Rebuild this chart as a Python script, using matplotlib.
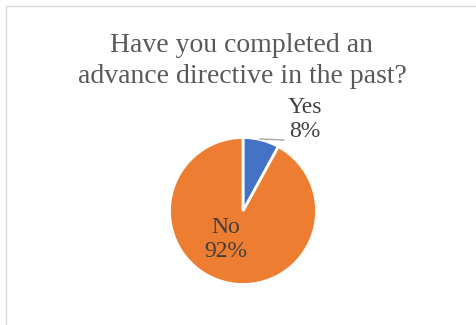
import matplotlib.pyplot as plt
from matplotlib.patches import Rectangle

categories = ["Yes", "No"]
shares = [8, 92]
colors = ["#4472C4", "#ED7D31"]
title_lines = ["Have you completed an", "advance directive in the past?"]

W, H = 476, 325
fig = plt.figure(figsize=(W / 100, H / 100), dpi=100)
plt.rcParams["font.family"] = ["Liberation Serif", "DejaVu Serif"]


def fx(px):
    return px / W


def fy(py):
    return 1 - py / H


# chart-area border (light gray), runs off the right and bottom edges
fig.patches.append(Rectangle((fx(6), -0.5), 1.5, fy(6) + 0.5,
                             transform=fig.transFigure,
                             fill=False, edgecolor="#D9D9D9", lw=1.0))

# title
fig.text(fx(242), fy(52), title_lines[0], ha="center", va="baseline",
         fontsize=20, color="#595959")
fig.text(fx(242), fy(83), title_lines[1], ha="center", va="baseline",
         fontsize=20, color="#595959")

# pie
cx, cy, r = 243, 211, 73.5
ax = fig.add_axes([fx(cx - r), fy(cy + r), 2 * r / W, 2 * r / H])
ax.pie(shares, colors=colors, startangle=90, counterclock=False,
       wedgeprops=dict(edgecolor="white", linewidth=2))
ax.set_xlim(-1, 1)
ax.set_ylim(-1, 1)
ax.set_aspect("equal")
ax.axis("off")

# data labels
lbl = dict(ha="center", va="baseline", fontsize=17, color="#404040")
fig.text(fx(305), fy(113), categories[0], **lbl)
fig.text(fx(305), fy(137), f"{shares[0]}%", **lbl)
fig.text(fx(226), fy(233), categories[1], **lbl)
fig.text(fx(226), fy(257), f"{shares[1]}%", **lbl)

# leader line for "Yes"
ax.plot([(260 - cx) / r, (284 - cx) / r], [(cy - 139) / r, (cy - 140) / r],
        color="#A6A6A6", lw=1.0, clip_on=False)

fig.savefig("out.png", dpi=100)
